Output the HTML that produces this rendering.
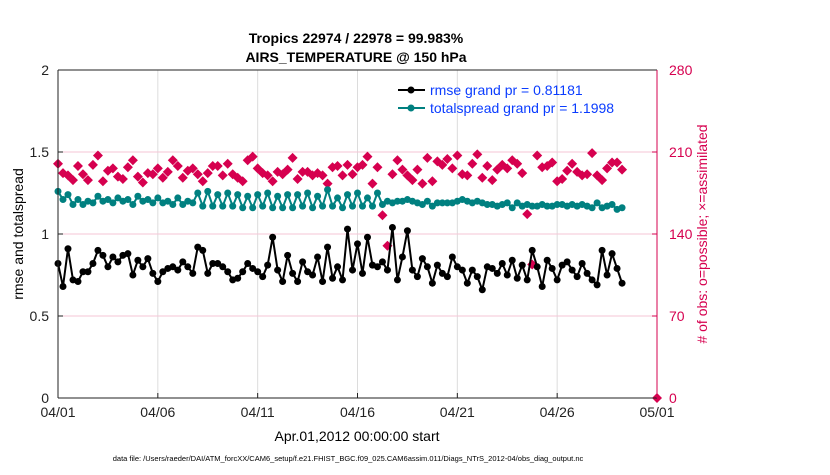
<!DOCTYPE html>
<html><head><meta charset="utf-8"><style>
body{margin:0;background:#fff;}
svg text{font-family:"Liberation Sans",Arial,sans-serif;}
</style></head><body>
<svg id="chart" width="830" height="470" viewBox="0 0 830 470" xmlns="http://www.w3.org/2000/svg">
<g id="grid"></g>
<g id="series"></g>
<g id="axes"></g>
<text x="356" y="43" text-anchor="middle" font-size="14" font-weight="bold">Tropics 22974 / 22978 = 99.983%</text>
<text x="356" y="62" text-anchor="middle" font-size="14" font-weight="bold">AIRS_TEMPERATURE @ 150 hPa</text>
<text transform="translate(23,234) rotate(-90)" text-anchor="middle" font-size="14">rmse and totalspread</text>
<text transform="translate(707,234) rotate(-90)" text-anchor="middle" font-size="14" fill="#d6004f"># of obs: o=possible; ×=assimilated</text>
<text x="357" y="441" text-anchor="middle" font-size="14">Apr.01,2012 00:00:00 start</text>
<text x="348" y="461" text-anchor="middle" font-size="7.5">data file: /Users/raeder/DAI/ATM_forcXX/CAM6_setup/f.e21.FHIST_BGC.f09_025.CAM6assim.011/Diags_NTrS_2012-04/obs_diag_output.nc</text>
<g>
<line x1="398" y1="90" x2="425" y2="90" stroke="#000" stroke-width="2"/><circle cx="411" cy="90" r="3.5" fill="#000"/>
<text x="430" y="95" font-size="14" fill="#0a3cff">rmse grand pr = 0.81181</text>
<line x1="398" y1="108" x2="425" y2="108" stroke="#008080" stroke-width="2"/><circle cx="411" cy="108" r="3.5" fill="#008080"/>
<text x="430" y="113" font-size="14" fill="#0a3cff">totalspread grand pr = 1.1998</text>
</g>
</svg>
<script>
const rmse=[0.82,0.68,0.91,0.72,0.71,0.77,0.77,0.82,0.90,0.87,0.80,0.86,0.83,0.87,0.88,0.75,0.84,0.80,0.85,0.76,
0.71,0.77,0.79,0.80,0.78,0.83,0.80,0.76,0.92,0.90,0.76,0.82,0.82,0.80,0.77,0.72,0.73,0.77,0.82,0.79,
0.77,0.74,0.81,0.98,0.78,0.71,0.87,0.76,0.71,0.83,0.77,0.75,0.86,0.71,0.92,0.73,
0.80,0.72,1.03,0.78,0.94,0.76,0.98,0.81,0.80,0.83,0.78,1.04,0.72,0.86,1.02,0.78,0.74,0.85,0.80,0.70,
0.81,0.76,0.74,0.86,0.80,0.78,0.70,0.78,0.74,0.66,0.80,0.79,0.76,0.82,0.75,0.84,0.73,0.81,0.72,0.90,
0.80,0.68,0.84,0.79,0.72,0.81,0.83,0.78,0.74,0.82,0.76,0.72,0.69,0.90,0.75,0.88,0.79,0.70];
const spread=[1.26,1.21,1.24,1.18,1.21,1.18,1.20,1.19,1.23,1.20,1.21,1.19,1.22,1.20,1.21,1.18,1.23,1.20,1.21,1.19,
1.22,1.19,1.20,1.18,1.22,1.18,1.20,1.19,1.25,1.17,1.26,1.17,1.24,1.17,1.25,1.17,1.24,1.16,1.23,1.16,
1.24,1.17,1.25,1.16,1.23,1.16,1.24,1.16,1.24,1.17,1.25,1.16,1.23,1.17,1.27,1.17,
1.22,1.16,1.24,1.17,1.25,1.17,1.22,1.17,1.25,1.18,1.20,1.19,1.20,1.20,1.21,1.20,1.19,1.18,1.20,1.17,
1.19,1.19,1.19,1.19,1.20,1.21,1.20,1.19,1.20,1.19,1.18,1.18,1.17,1.18,1.19,1.16,1.19,1.17,1.18,1.17,
1.17,1.18,1.17,1.17,1.18,1.18,1.17,1.18,1.17,1.18,1.17,1.16,1.19,1.16,1.17,1.18,1.15,1.16];
const obs=[200,192,190,186,198,191,186,199,207,185,194,196,189,187,197,203,189,184,192,191,
196,188,193,203,198,188,194,196,191,185,192,198,198,190,200,191,188,185,203,206,
196,192,190,185,193,191,195,205,187,193,193,190,192,190,183,197,198,190,199,191,
197,199,206,183,197,156,130,191,203,195,190,186,195,183,205,185,
202,199,204,196,207,191,190,200,208,188,198,186,195,199,196,203,200,192,157,114,
207,197,198,201,185,187,194,200,193,190,191,209,190,186,196,201,201,195];
const finalObs=[30,0];
const xTickLabels=["04/01","04/06","04/11","04/16","04/21","04/26","05/01"];
const xTickDays=[0,5,10,15,20,25,30];
const yLeftTicks=[0,0.5,1,1.5,2];
const yRightTicks=[0,70,140,210,280];

const X0=58,X1=657,Y0=398,Y1=70,NS="http://www.w3.org/2000/svg";
const xs=d=>X0+(X1-X0)*d/30;
const yl=v=>Y0-(Y0-Y1)*v/2;
const yr=v=>Y0-(Y0-Y1)*v/280;
function mk(tag,attrs,parent){const e=document.createElementNS(NS,tag);for(const k in attrs)e.setAttribute(k,attrs[k]);parent.appendChild(e);return e;}
const grid=document.getElementById('grid'),ser=document.getElementById('series'),ax=document.getElementById('axes');
xTickDays.forEach((d,i)=>{
  if(i>0&&i<xTickDays.length-1){const g=mk('line',{x1:xs(d),x2:xs(d),y1:Y1,y2:Y0,stroke:'#dcdcdc','stroke-width':1},grid);
  
  }
  const t=mk('text',{x:xs(d),y:Y0+19,'text-anchor':'middle','font-size':14,fill:'#222'},ax);t.textContent=xTickLabels[i];
  
  
  mk('line',{x1:xs(d),x2:xs(d),y1:Y0,y2:Y0-5,stroke:'#222'},ax);
});
yLeftTicks.forEach(v=>{
  if(v>0&&v<2){const g=mk('line',{x1:X0,x2:X1,y1:yl(v),y2:yl(v),stroke:'#f5c6d6','stroke-width':1},grid);
  
  }
  const t=mk('text',{x:X0-9,y:yl(v)+5,'text-anchor':'end','font-size':14,fill:'#222'},ax);t.textContent=String(v);
  
  
  mk('line',{x1:X0,x2:X0+5,y1:yl(v),y2:yl(v),stroke:'#222'},ax);
});
yRightTicks.forEach(v=>{
  const t=mk('text',{x:X1+12,y:yr(v)+5,'font-size':14,fill:'#d6004f'},ax);t.textContent=String(v);
  
  
  mk('line',{x1:X1,x2:X1-5,y1:yr(v),y2:yr(v),stroke:'#d6004f'},ax);
});
mk('line',{x1:X0,x2:X1,y1:Y1,y2:Y1,stroke:'#222'},ax);
mk('line',{x1:X0,x2:X1,y1:Y0,y2:Y0,stroke:'#222'},ax);
mk('line',{x1:X0,x2:X0,y1:Y1,y2:Y0,stroke:'#222'},ax);
mk('line',{x1:X1,x2:X1,y1:Y1,y2:Y0,stroke:'#d6004f'},ax);

function diamond(x,y){const p=mk('polygon',{points:`${x},${y-5} ${x+5},${y} ${x},${y+5} ${x-5},${y}`,fill:'#d6004f'},ser);
  
  }
obs.forEach((v,i)=>diamond(xs(i*0.25),yr(v)));
diamond(xs(finalObs[0]),yr(finalObs[1]));
function line(vals,color,name){
  const pts=vals.map((v,i)=>xs(i*0.25)+','+yl(v)).join(' ');
  const pl=mk('polyline',{points:pts,fill:'none',stroke:color,'stroke-width':2},ser);
  
  
  vals.forEach((v,i)=>{const c=mk('circle',{cx:xs(i*0.25),cy:yl(v),r:3.5,fill:color},ser);
    
    });
}
line(spread,'#008080','totalspread');
line(rmse,'#000','rmse');
</script>
</body></html>
